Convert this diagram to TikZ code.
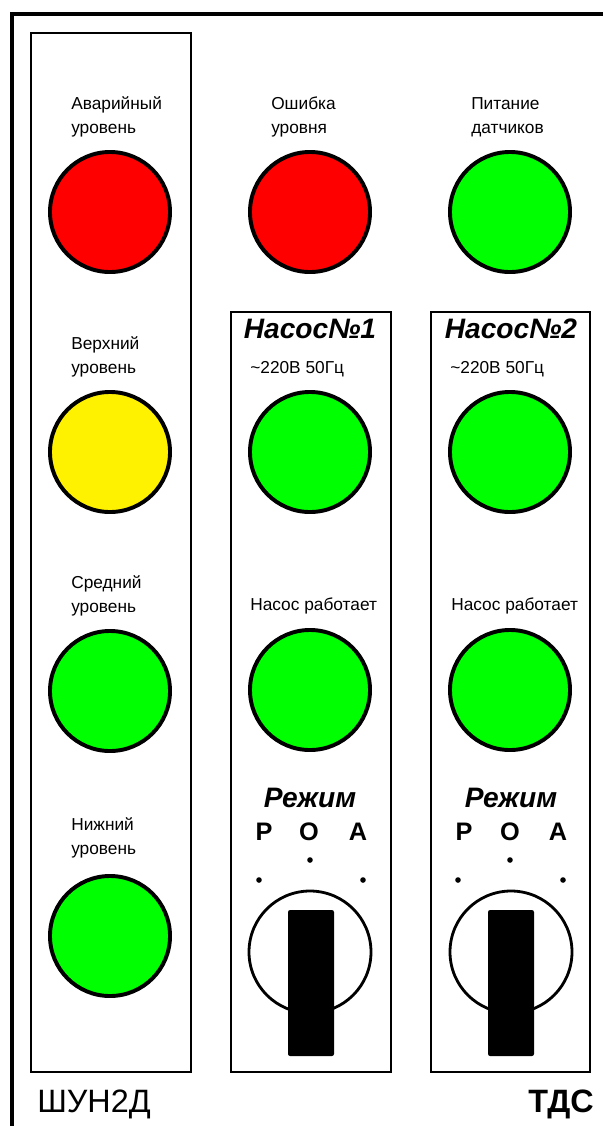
\documentclass[tikz,border=0pt]{standalone}
\usepackage{fontspec}
\setmainfont{Liberation Sans}
\usetikzlibrary{positioning}
\tikzset {
    lamp/.style = {shape=circle, draw=black, line width=2.8pt, minimum size=3.0cm, inner sep=0pt},
    lbl/.style = {align=left, inner sep=0pt, anchor=base west, font=\fontsize{12.3}{17}\selectfont},
    head/.style = {inner sep=0pt, anchor=base, font=\fontsize{20}{22}\selectfont\bfseries\itshape},
    modepos/.style = {inner sep=0pt, anchor=base, font=\fontsize{18}{20}\selectfont\bfseries},
    panel/.style = {draw=black, line width=0.9pt},
    knob/.style = {draw=black, line width=2pt},
    handle/.style = {fill=black, rounded corners=1.5pt},
    dot/.style = {fill=black}
}
\begin{document}
\begin{tikzpicture}[x=0.025cm, y=-0.025cm]
	\useasboundingbox (0,0) rectangle (603,1126);
	% frame and panels
	\draw[line width=2.8pt] (12,1130) -- (12,14) -- (610,14);
	\draw[panel] (31,33) rectangle (191,1072);
	\draw[panel] (231,312) rectangle (391,1072);
	\draw[panel] (431,312) rectangle (590,1072);

	% level lamps (label base = last line)
	\node (avar) [lamp, fill=red] at (110,212) {};
	\node (verh) [lamp, fill=yellow] at (110,452) {};
	\node (sred) [lamp, fill=green] at (110,691) {};
	\node (nizh) [lamp, fill=green] at (110,936) {};
	\node (tavar) [lbl] at (71,133) {Аварийный\\уровень};
	\node (tverh) [lbl] at (71,373) {Верхний\\уровень};
	\node (tsred) [lbl] at (71,612) {Средний\\уровень};
	\node (tnizh) [lbl] at (71,854) {Нижний\\уровень};

	% top row
	\node (osh) [lamp, fill=red] at (310,212) {};
	\node (pit) [lamp, fill=green] at (510,212) {};
	\node (tosh) [lbl] at (271,133) {Ошибка\\уровня};
	\node (tpit) [lbl] at (471,133) {Питание\\датчиков};

	% pump 1
	\node (nas1) [head] at (310,338) {Насос№1};
	\node (pwr1) [lbl] at (250,373) {\textasciitilde220В 50Гц};
	\node (net1) [lamp, fill=green] at (310,452) {};
	\node (tw1) [lbl] at (250,610) {Насос работает};
	\node (run1) [lamp, fill=green] at (310,690) {};
	\node (rej1) [head] at (310,807) {Режим};
	\node (p1) [modepos] at (264,840) {Р};
	\node (o1) [modepos] at (309,840) {О};
	\node (a1) [modepos] at (358,840) {А};
	\fill[dot] (259,880) circle[radius=2.8];
	\fill[dot] (310,860) circle[radius=2.8];
	\fill[dot] (363,880) circle[radius=2.8];
	\draw[knob] (310,952) circle[radius=61];
	\fill[handle] (288,910) rectangle (334,1056);

	% pump 2
	\node (nas2) [head] at (511,338) {Насос№2};
	\node (pwr2) [lbl] at (450,373) {\textasciitilde220В 50Гц};
	\node (net2) [lamp, fill=green] at (510,452) {};
	\node (tw2) [lbl] at (451,610) {Насос работает};
	\node (run2) [lamp, fill=green] at (510,690) {};
	\node (rej2) [head] at (511,807) {Режим};
	\node (p2) [modepos] at (464,840) {Р};
	\node (o2) [modepos] at (510,840) {О};
	\node (a2) [modepos] at (558,840) {А};
	\fill[dot] (458,880) circle[radius=2.8];
	\fill[dot] (510,860) circle[radius=2.8];
	\fill[dot] (563,880) circle[radius=2.8];
	\draw[knob] (511,952) circle[radius=61];
	\fill[handle] (488,910) rectangle (534,1056);

	% captions
	\node (shun) [inner sep=0pt, anchor=base west, font=\fontsize{23}{26}\selectfont] at (37,1112) {ШУН2Д};
	\node (tds) [inner sep=0pt, anchor=base east, font=\fontsize{23}{26}\selectfont\bfseries] at (594,1112) {ТДС};
\end{tikzpicture}
\end{document}
